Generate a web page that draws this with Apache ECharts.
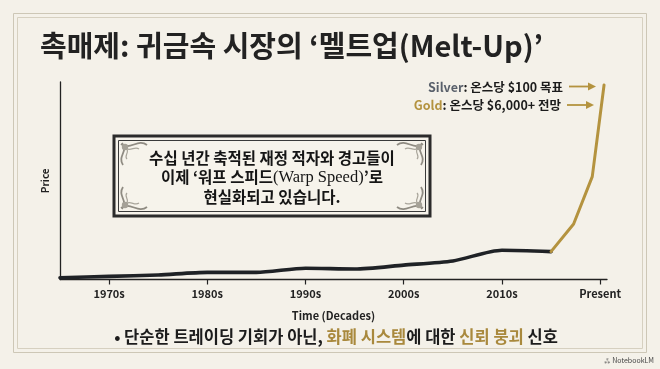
<!DOCTYPE html>
<html><head><meta charset="utf-8">
<script src="https://cdn.jsdelivr.net/npm/echarts@6/dist/echarts.min.js"></script>
<style>html,body{margin:0;padding:0;background:#f4f1e9;}#c{width:660px;height:369px;}</style>
</head><body><div id="c"></div>
<script>
// ---- data ----
const blackYears  = [1965, 1970, 1975, 1980, 1985, 1990, 1995, 2000, 2005, 2010, 2015];
const blackValues = [0.9, 1.6, 2.3, 3.6, 3.6, 5.7, 5.3, 7.3, 9.4, 14.8, 14.1];
const goldYears   = [2015, 2017.3, 2019.2, 2020.4];
const goldValues  = [14.1, 28.1, 52.1, 98.5];
const tickYears   = [1970, 1980, 1990, 2000, 2010, 2020];
const tickLabels  = ['1970s', '1980s', '1990s', '2000s', '2010s', 'Present'];

const FONT = '"Noto Sans CJK KR", "Noto Sans", sans-serif';
const GOLD = '#b4933f';
const DARK = '#1f2226';

const chart = echarts.init(document.getElementById('c'), null, {renderer: 'canvas'});

function corner(cx, cy, sx, sy) {
  // grey flourish in a box corner
  const c = '#8f8b82';
  return {
    type: 'group', x: cx, y: cy, scaleX: sx, scaleY: sy, silent: true, z: 11,
    children: [
      {type: 'bezierCurve', z: 11, shape: {x1: 0, y1: 1, x2: 26, y2: 2, cpx1: 9, cpy1: 8, cpx2: 17, cpy2: -5}, style: {stroke: c, lineWidth: 1.8, fill: null}},
      {type: 'bezierCurve', z: 11, shape: {x1: 1, y1: 0, x2: 2, y2: 22, cpx1: 8, cpy1: 8, cpx2: -4, cpy2: 13}, style: {stroke: c, lineWidth: 1.8, fill: null}},
      {type: 'bezierCurve', z: 11, shape: {x1: 3, y1: 3, x2: 18, y2: 6, cpx1: 9, cpy1: 11, cpx2: 13, cpy2: 2}, style: {stroke: '#a9a59b', lineWidth: 1.2, fill: null}},
      {type: 'bezierCurve', z: 11, shape: {x1: 3, y1: 3, x2: 6, y2: 16, cpx1: 11, cpy1: 9, cpx2: 2, cpy2: 12}, style: {stroke: '#a9a59b', lineWidth: 1.2, fill: null}},
      {type: 'circle', z: 11, shape: {cx: 4, cy: 4, r: 3.2}, style: {fill: '#a5a197'}}
    ]
  };
}

const option = {
  backgroundColor: '#f4f1e9',
  animation: false,
  textStyle: {fontFamily: FONT},
  grid: {left: 60, right: 53, top: 82, bottom: 89.5},
  xAxis: {
    type: 'value', min: 1965, max: 2020.7,
    name: 'Time (Decades)', nameLocation: 'middle', nameGap: 31,
    nameTextStyle: {fontFamily: FONT, fontWeight: 'bold', fontSize: 11, color: '#222'},
    axisLine: {show: true, lineStyle: {color: '#222', width: 1.3}},
    axisTick: {show: true, customValues: tickYears, length: 5, lineStyle: {color: '#222', width: 1.2}},
    axisLabel: {
      customValues: tickYears, margin: 9,
      fontFamily: FONT, fontWeight: 'bold', fontSize: 11, color: '#222',
      formatter: v => tickLabels[tickYears.indexOf(Math.round(v))] || ''
    },
    splitLine: {show: false}
  },
  yAxis: {
    type: 'value', min: 0, max: 100,
    name: 'Price', nameLocation: 'middle', nameGap: 10, nameRotate: 90,
    nameTextStyle: {fontFamily: FONT, fontWeight: 'bold', fontSize: 10, color: '#222'},
    axisLine: {show: true, lineStyle: {color: '#222', width: 1.3}},
    axisTick: {show: false}, axisLabel: {show: false}, splitLine: {show: false}
  },
  series: [
    {
      type: 'line', data: blackYears.map((y, i) => [y, blackValues[i]]),
      smooth: 0.25, symbol: 'none', z: 3,
      lineStyle: {color: DARK, width: 3.6, cap: 'round', join: 'round'}
    },
    {
      type: 'line', data: goldYears.map((y, i) => [y, goldValues[i]]),
      smooth: false, symbol: 'none', z: 4,
      lineStyle: {color: GOLD, width: 3, cap: 'round', join: 'round'}
    }
  ],
  graphic: [
    // outer double frame
    {type: 'rect', silent: true, z: -10, shape: {x: 13.5, y: 13.5, width: 633, height: 339}, style: {fill: null, stroke: '#cdc7b6', lineWidth: 1}},
    {type: 'rect', silent: true, z: -10, shape: {x: 17.5, y: 17.5, width: 625, height: 331}, style: {fill: null, stroke: '#d6d0c0', lineWidth: 1}},
    // title
    {type: 'text', x: 40, y: 46, style: {text: '촉매제: 귀금속 시장의 ‘멜트업(Melt-Up)’', font: 'bold 29px ' + FONT, fill: '#222', textVerticalAlign: 'middle'}},
    // legend annotations
    {type: 'text', x: 563, y: 87, style: {
      text: '{s|Silver}{b|: 온스당 $100 목표}', textAlign: 'right', textVerticalAlign: 'middle',
      rich: {s: {fontFamily: FONT, fontWeight: 'bold', fontSize: 12.5, fill: '#59606b'}, b: {fontFamily: FONT, fontWeight: 'bold', fontSize: 12.5, fill: '#1c1c1c'}}
    }},
    {type: 'text', x: 561, y: 105.5, style: {
      text: '{g|Gold}{b|: 온스당 $6,000+ 전망}', textAlign: 'right', textVerticalAlign: 'middle',
      rich: {g: {fontFamily: FONT, fontWeight: 'bold', fontSize: 12.5, fill: GOLD}, b: {fontFamily: FONT, fontWeight: 'bold', fontSize: 12.5, fill: '#1c1c1c'}}
    }},
    {type: 'line', shape: {x1: 569, y1: 86.5, x2: 592, y2: 86.5}, style: {stroke: GOLD, lineWidth: 1.8}},
    {type: 'polygon', shape: {points: [[596, 86.5], [588, 82.5], [588, 90.5]]}, style: {fill: GOLD}},
    {type: 'line', shape: {x1: 567, y1: 105, x2: 590, y2: 105}, style: {stroke: GOLD, lineWidth: 1.8}},
    {type: 'polygon', shape: {points: [[594, 105], [586, 101], [586, 109]]}, style: {fill: GOLD}},
    // annotation box
    {type: 'rect', z: 10, shape: {x: 114, y: 136, width: 316, height: 80}, style: {fill: '#f6f3eb', stroke: '#2b2b2b', lineWidth: 3}},
    {type: 'rect', z: 10, shape: {x: 118.5, y: 140.5, width: 307, height: 71}, style: {fill: null, stroke: '#3a3a3a', lineWidth: 1}},
    corner(121, 143, 1, 1),
    corner(423, 143, -1, 1),
    corner(121, 209, 1, -1),
    corner(423, 209, -1, -1),
    {type: 'text', z: 12, x: 272, y: 158, style: {text: '수십 년간 축적된 재정 적자와 경고들이', textAlign: 'center', textVerticalAlign: 'middle', font: 'bold 15.5px ' + FONT, fill: '#151515'}},
    {type: 'text', z: 12, x: 272, y: 177.5, style: {
      text: '{k|이제 ‘워프 스피드}{e|(Warp Speed)}{k|’로}', textAlign: 'center', textVerticalAlign: 'middle',
      rich: {k: {fontFamily: FONT, fontWeight: 'bold', fontSize: 15.5, fill: '#151515'}, e: {fontFamily: '"Liberation Serif", "DejaVu Serif", serif', fontSize: 16.5, fill: '#151515'}}
    }},
    {type: 'text', z: 12, x: 272, y: 197, style: {text: '현실화되고 있습니다.', textAlign: 'center', textVerticalAlign: 'middle', font: 'bold 15.5px ' + FONT, fill: '#151515'}},
    // bottom message
    {type: 'text', x: 336, y: 337, style: {
      text: '{b|• 단순한 트레이딩 기회가 아닌, }{g|화폐 시스템}{b|에 대한 }{g|신뢰 붕괴}{b| 신호}',
      textAlign: 'center', textVerticalAlign: 'middle',
      rich: {b: {fontFamily: FONT, fontWeight: 'bold', fontSize: 16.5, fill: '#1c1c1c'}, g: {fontFamily: FONT, fontWeight: 'bold', fontSize: 16.5, fill: '#a9893d'}}
    }},
    // watermark
    {type: 'text', x: 654, y: 360, style: {text: '⁂ NotebookLM', textAlign: 'right', textVerticalAlign: 'middle', font: '7px ' + FONT, fill: '#444'}}
  ]
};
chart.setOption(option);
</script>
</body></html>
